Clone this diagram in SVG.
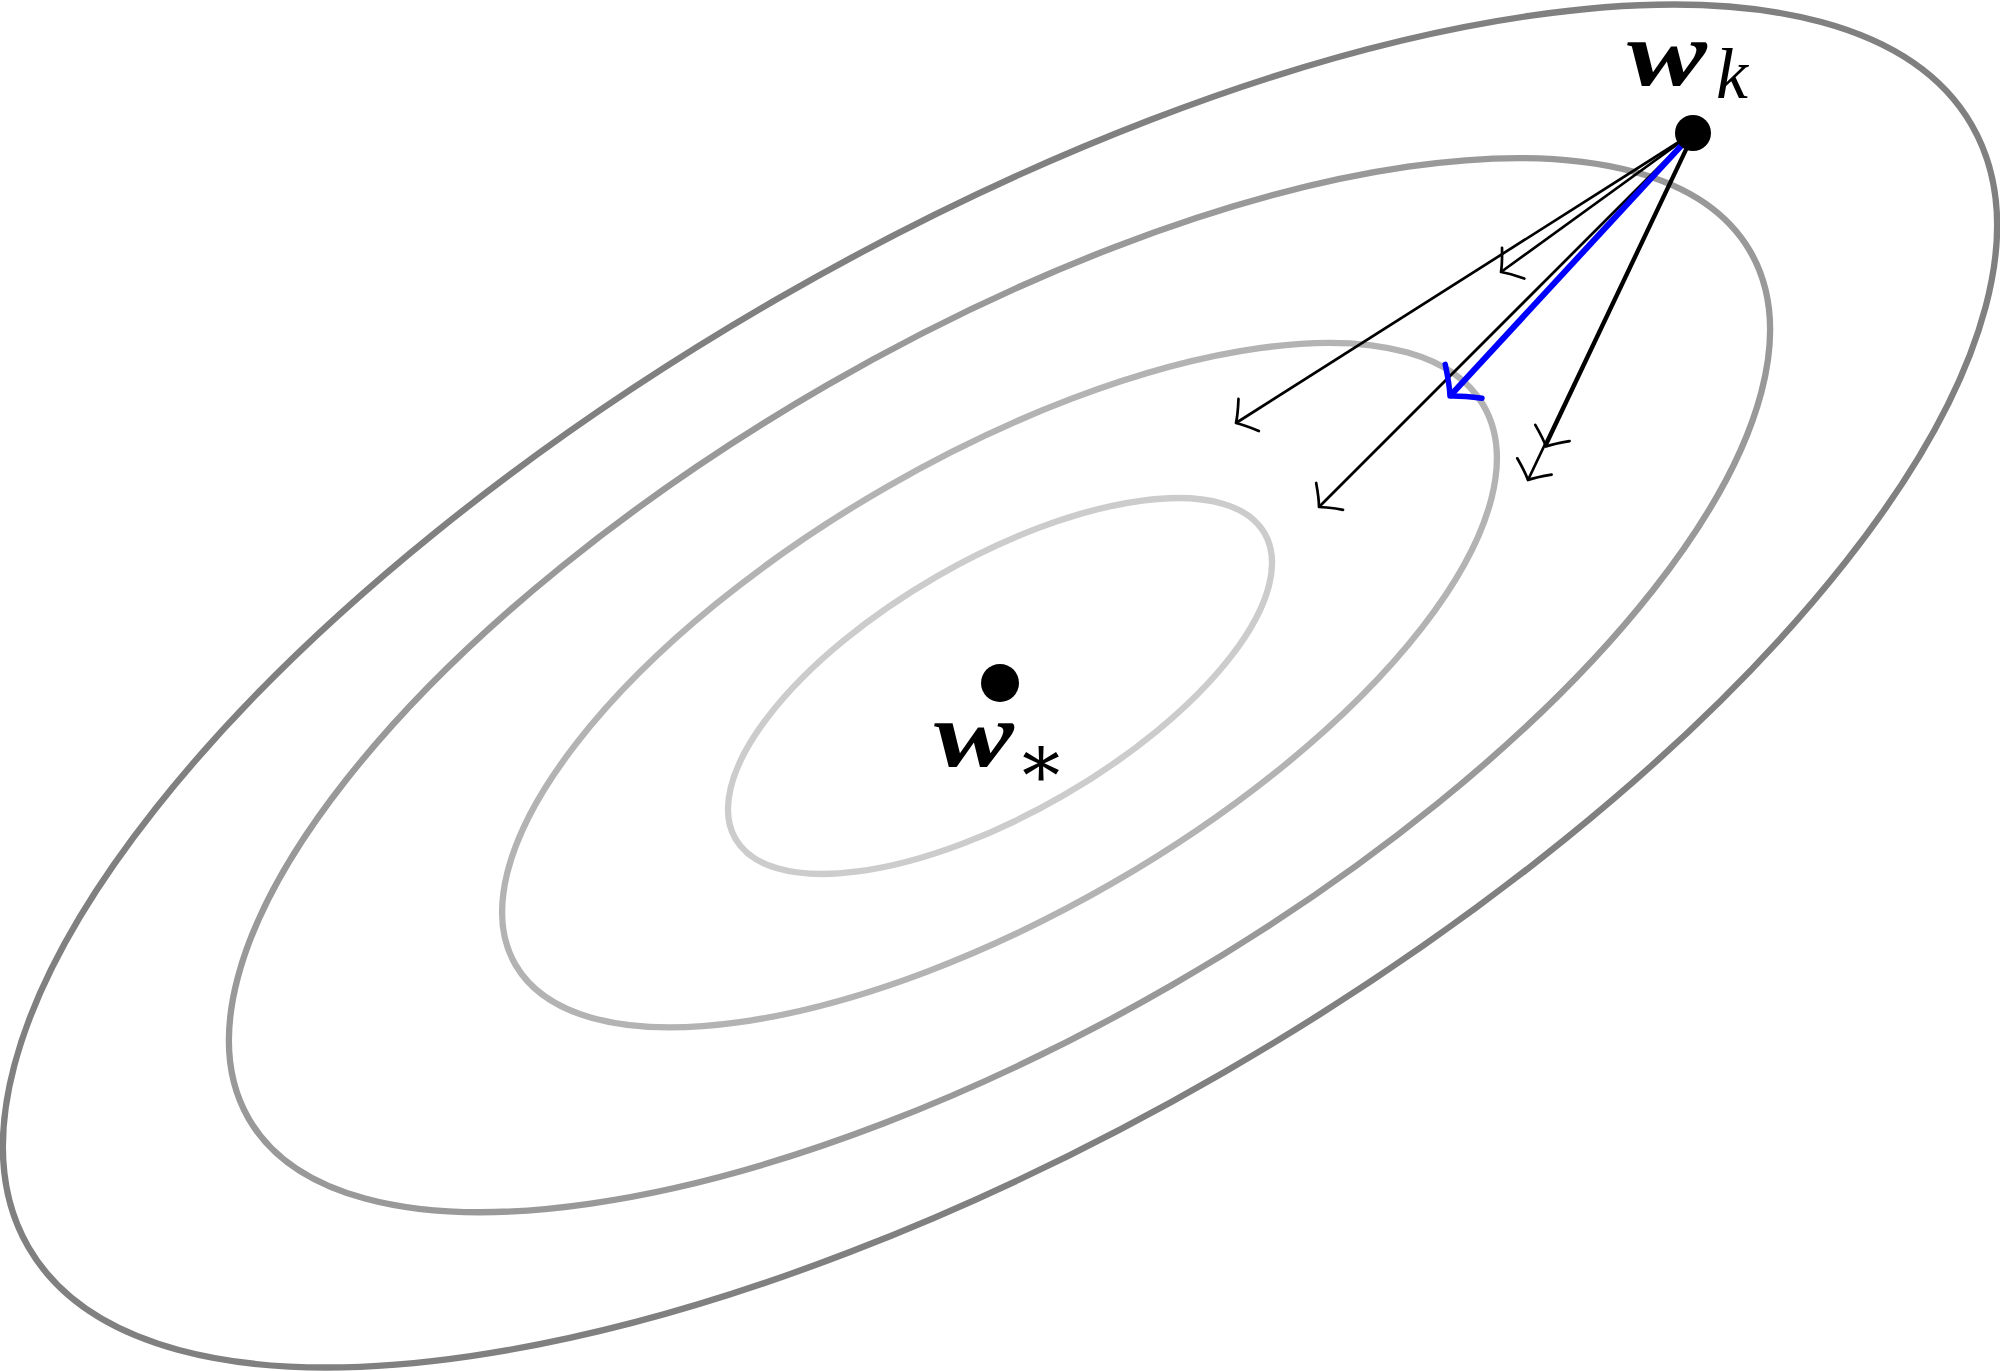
<svg xmlns="http://www.w3.org/2000/svg" width="2000" height="1371" viewBox="0 0 2000 1371">
<style>
.c{fill:none;stroke-width:6.3}
.a{fill:none;stroke:#000;stroke-width:2.7}
.b{fill:none;stroke:#0000ff;stroke-width:6}
.m{font-family:"Liberation Serif",serif;fill:#000}
</style>
<defs>
<marker id="ha" markerUnits="userSpaceOnUse" viewBox="-30 -30 40 60" markerWidth="40" markerHeight="60" refX="0" refY="0" orient="auto" overflow="visible">
<path d="M-15,-19 Q-6,-6 0,0 Q-6,6 -15,19" fill="none" stroke="#000" stroke-width="2.7" stroke-linecap="round" stroke-linejoin="round"/>
</marker>
<marker id="hb" markerUnits="userSpaceOnUse" viewBox="-40 -40 50 80" markerWidth="50" markerHeight="80" refX="0" refY="0" orient="auto" overflow="visible">
<path d="M-20,-25 Q-8,-8 0,0 Q-8,8 -20,25" fill="none" stroke="#0000ff" stroke-width="5.5" stroke-linecap="round" stroke-linejoin="round"/>
</marker>
</defs>
<g id="contours" transform="rotate(-30 1000 686)">
<ellipse id="level4" class="c" cx="1000" cy="686" rx="1122" ry="446.5" stroke="#808080"/>
<ellipse id="level3" class="c" cx="1000" cy="685" rx="867" ry="346" stroke="#999999"/>
<ellipse id="level2" class="c" cx="1000" cy="685" rx="559" ry="228" stroke="#b3b3b3"/>
<ellipse id="level1" class="c" cx="1000" cy="686" rx="305.5" ry="126.5" stroke="#cccccc"/>
</g>
<g id="connectors">
<line class="a" x1="1693" y1="133" x2="1236" y2="423" marker-end="url(#ha)"/>
<line class="a" x1="1693" y1="133" x2="1501" y2="272" marker-end="url(#ha)"/>
<line class="a" x1="1693" y1="133" x2="1319" y2="507" marker-end="url(#ha)"/>
<line class="a" x1="1694.4" y1="133.6" x2="1546" y2="446.5" marker-end="url(#ha)"/>
<line class="a" x1="1693" y1="133" x2="1528" y2="480" marker-end="url(#ha)"/>
<line class="b" x1="1693" y1="133" x2="1450" y2="396" marker-end="url(#hb)"/>
</g>
<g id="wk">
<circle cx="1693" cy="133" r="18" fill="#000"/>
<text class="m" x="1627" y="85" font-size="94" font-weight="bold" font-style="italic" textLength="80" lengthAdjust="spacingAndGlyphs">w</text>
<text class="m" x="1716" y="98" font-size="72" font-style="italic">k</text>
</g>
<g id="wstar">
<circle cx="1000" cy="683" r="19" fill="#000"/>
<text class="m" x="934" y="766" font-size="94" font-weight="bold" font-style="italic" textLength="80" lengthAdjust="spacingAndGlyphs">w</text>
<text x="1041" y="787" font-size="76" text-anchor="middle" font-family="'DejaVu Serif',serif">∗</text>
</g>
</svg>
